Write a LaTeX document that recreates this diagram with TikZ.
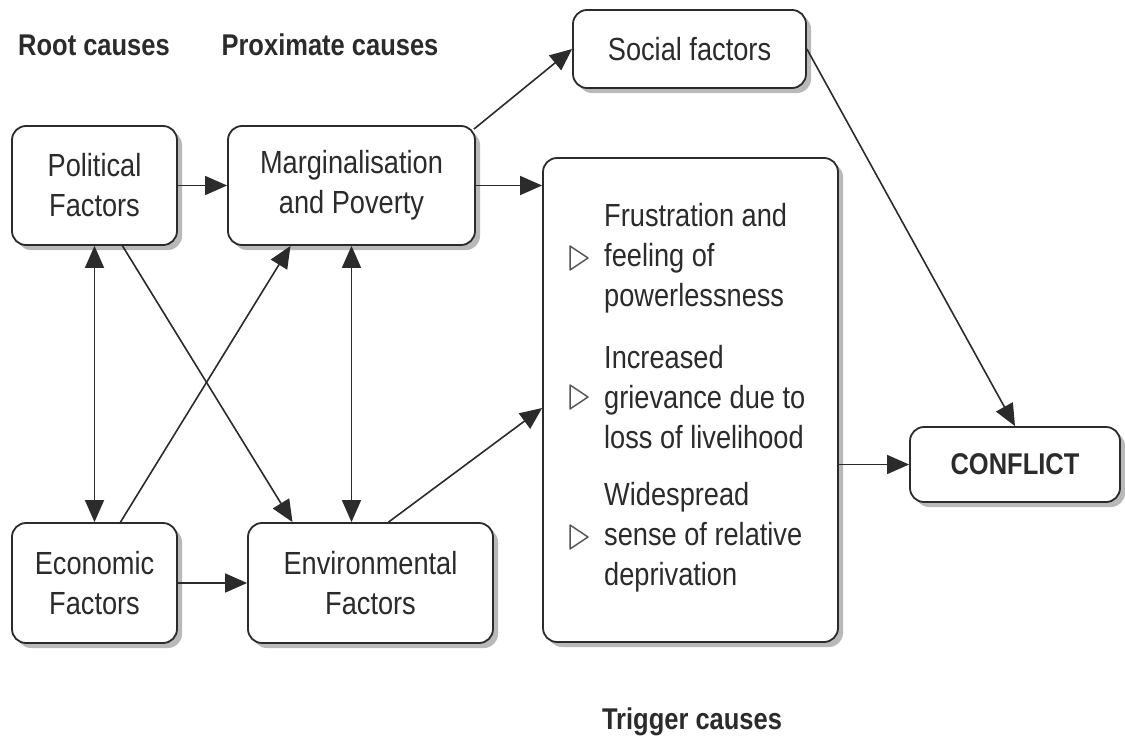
\documentclass[tikz,border=0pt]{standalone}
\usepackage{fontspec}
\setmainfont{Liberation Sans}[FakeStretch=0.85]
\usetikzlibrary{arrows.meta}
\usetikzlibrary{shadows}

\definecolor{ink}{HTML}{2B2B2B}

\begin{document}
\begin{tikzpicture}[x=1pt, y=-1pt,
    box/.style={draw=ink, line width=1.8pt, rounded corners=14pt, fill=white, inner sep=0pt,
      align=center, text=ink, font=\fontsize{32}{40}\selectfont,
      drop shadow={shadow xshift=5pt, shadow yshift=-5pt, fill=black!55}},
    head/.style={text=ink, font=\fontsize{30}{36}\selectfont\bfseries},
    link/.style={draw=ink, line width=1.6pt, -{Triangle[length=22pt,width=19pt]}},
    both/.style={link, {Triangle[length=22pt,width=19pt]}-{Triangle[length=22pt,width=19pt]}},
    item/.style={text=ink, align=left, anchor=west, inner sep=0pt, font=\fontsize{32}{40}\selectfont},
    bul/.style={draw=ink!80, line width=1.5pt, line join=round}]
    \useasboundingbox (0,0) rectangle (1125,739);
    % headings
    \node [head] (root) at (94,45) {Root causes};
    \node [head] (prox) at (330,45) {Proximate causes};
    \node [head] (trighead) at (692,722) {Trigger causes};
    % boxes
    \node [box, minimum width=165pt, minimum height=119pt] (pol) at (94.5,185.5) {Political\\Factors};
    \node [box, minimum width=247pt, minimum height=119pt] (marg) at (351.5,185.5) {Marginalisation\\and Poverty};
    \node [box, minimum width=233pt, minimum height=78pt] (soc) at (689.5,49) {Social factors};
    \node [box, minimum width=295pt, minimum height=484pt] (trig) at (690.5,400) {};
    \node [box, minimum width=210pt, minimum height=75pt, font=\fontsize{30}{36}\selectfont\bfseries] (conf) at (1015,464.5) {CONFLICT};
    \node [box, minimum width=165pt, minimum height=120pt] (eco) at (94.5,583) {Economic\\Factors};
    \node [box, minimum width=245pt, minimum height=120pt] (env) at (370.5,583) {Environmental\\Factors};
    % trigger items
    \node [item] (fru) at (604,258) {Frustration and\\feeling of\\powerlessness};
    \node [item] (gri) at (604,397) {Increased\\grievance due to\\loss of livelihood};
    \node [item] (dep) at (604,537) {Widespread\\sense of relative\\deprivation};
    \foreach \y in {258,397,537}
      \draw [bul] (570,\y-12) -- (588,\y) -- (570,\y+12) -- cycle;
    % connectors
    \draw [link] (pol.east) -- (marg.west);
    \draw [link] (marg.east) -- (marg.east -| trig.west);
    \draw [link] ([xshift=-2pt,yshift=-4pt]marg.north east) -- (soc.west);
    \draw [link] (soc.east) -- (conf.north);
    \draw [both] (pol.south) -- (eco.north);
    \draw [link] ([xshift=28pt]pol.south) -- ([xshift=-78pt]env.north);
    \draw [link] ([xshift=26pt]eco.north) -- ([xshift=-61pt]marg.south);
    \draw [both] (marg.south) -- (marg.south |- env.north);
    \draw [link] ([xshift=18pt]env.north) -- ([yshift=-8pt]trig.west);
    \draw [link] (eco.east) -- (env.west);
    \draw [link] (trig.east |- conf.west) -- (conf.west);
\end{tikzpicture}
\end{document}
